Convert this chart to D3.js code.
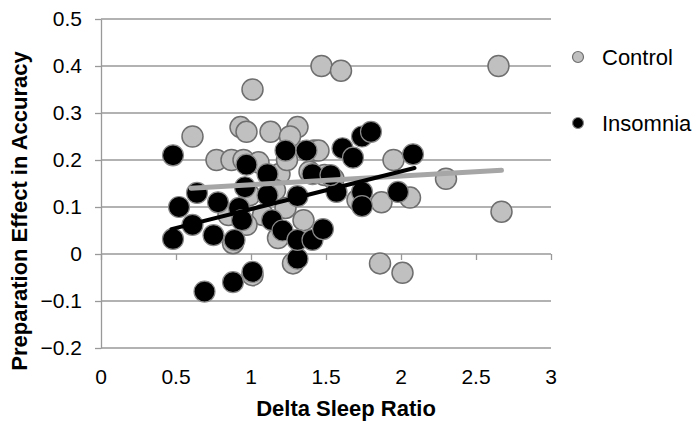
<!DOCTYPE html>
<meta charset="utf-8">
<script src="https://d3js.org/d3.v7.min.js"></script>
<style>
    body { margin: 0; background: #fff; }
    text { font-family: "Liberation Sans", Arial, sans-serif; }
</style>
<div id="vis"></div>
<script>
    // data: [delta sleep ratio, preparation effect]
    var control = [
        [0.61, 0.25], [0.93, 0.27], [0.97, 0.26], [1.01, 0.35], [1.13, 0.26],
        [1.31, 0.27], [1.26, 0.25], [0.77, 0.20], [0.87, 0.20], [0.95, 0.20],
        [1.05, 0.195], [1.19, 0.17], [1.24, 0.20], [1.39, 0.175], [1.42, 0.22],
        [1.45, 0.22], [1.47, 0.40], [1.60, 0.39], [1.49, 0.168], [1.55, 0.16],
        [1.71, 0.115], [1.87, 0.11], [1.95, 0.20], [2.06, 0.12], [2.30, 0.16],
        [2.65, 0.40], [2.67, 0.09], [1.86, -0.02], [2.01, -0.04], [1.35, 0.072],
        [1.18, 0.034], [0.88, 0.023], [1.28, -0.02], [1.01, -0.045], [1.08, 0.083],
        [1.23, 0.098], [0.85, 0.083], [0.99, 0.125], [1.16, 0.136], [0.97, 0.062]
    ];
    var insomnia = [
        [0.48, 0.21], [0.52, 0.10], [0.61, 0.062], [0.48, 0.032], [0.64, 0.13],
        [0.78, 0.11], [0.92, 0.098], [0.94, 0.072], [0.75, 0.04], [0.89, 0.03],
        [1.11, 0.125], [1.14, 0.072], [1.21, 0.05], [1.31, -0.01], [1.01, -0.038],
        [0.88, -0.06], [0.69, -0.08], [0.97, 0.19], [1.11, 0.17], [1.23, 0.22],
        [1.37, 0.22], [1.41, 0.17], [1.31, 0.123], [0.96, 0.142], [1.61, 0.225],
        [1.68, 0.205], [1.74, 0.25], [1.80, 0.26], [2.08, 0.212], [1.57, 0.132],
        [1.74, 0.132], [1.98, 0.132], [1.74, 0.102], [1.31, 0.03], [1.41, 0.03],
        [1.48, 0.053], [1.53, 0.168]
    ];
    // linear trend lines, end points as shown
    var controlTrend = [[0.60, 0.14], [2.67, 0.178]];
    var insomniaTrend = [[0.47, 0.053], [2.09, 0.183]];

    var xTicks = [0, 0.5, 1, 1.5, 2, 2.5, 3];
    var yTicks = [-0.2, -0.1, 0, 0.1, 0.2, 0.3, 0.4, 0.5];
    var series = ["Control", "Insomnia"];

    var W = 700, H = 431;
    var svg = d3.select("#vis").append("svg")
        .attr("width", W)
        .attr("height", H);

    var x = d3.scaleLinear().domain([0, 3]).range([101, 551]);
    var y = d3.scaleLinear().domain([-0.2, 0.5]).range([348, 19]);

    // gridlines
    svg.append("g")
        .selectAll("line")
        .data(yTicks)
        .enter().append("line")
        .attr("x1", x(0)).attr("x2", x(3))
        .attr("y1", function (d) { return y(d); })
        .attr("y2", function (d) { return y(d); })
        .attr("stroke", "#999")
        .attr("stroke-width", 1.3);

    // y axis
    var yAx = svg.append("g")
        .attr("transform", "translate(" + x(0) + ",0)")
        .call(d3.axisLeft(y).tickValues(yTicks).tickSizeInner(6).tickSizeOuter(0).tickPadding(13)
            .tickFormat(function (d) { return d === 0 ? "0" : d3.format(".1f")(d); }));
    yAx.selectAll("path, line").attr("stroke", "#999").attr("stroke-width", 1.3);
    yAx.selectAll("text").attr("font-size", 21).attr("fill", "#000")
        .style("font-family", "'Liberation Sans', Arial, sans-serif");

    // x axis crosses at y = 0
    var xAx = svg.append("g")
        .attr("transform", "translate(0," + y(0) + ")")
        .call(d3.axisBottom(x).tickValues(xTicks).tickSizeInner(6).tickSizeOuter(0)
            .tickFormat(d3.format("")));
    xAx.select(".domain").remove();
    xAx.selectAll("line").attr("stroke", "#999").attr("stroke-width", 1.3);
    xAx.selectAll("text").remove();

    // x tick labels at the bottom
    svg.append("g")
        .selectAll("text")
        .data(xTicks)
        .enter().append("text")
        .attr("x", function (d) { return x(d); })
        .attr("y", 384)
        .attr("text-anchor", "middle")
        .attr("font-size", 21)
        .text(function (d) { return d; });

    // markers
    svg.append("g")
        .selectAll("circle")
        .data(control)
        .enter().append("circle")
        .attr("cx", function (d) { return x(d[0]); })
        .attr("cy", function (d) { return y(d[1]); })
        .attr("r", 10.5)
        .attr("fill", "#c0c0c0")
        .attr("stroke", "#6e6e6e")
        .attr("stroke-width", 1.5);

    svg.append("g")
        .selectAll("circle")
        .data(insomnia)
        .enter().append("circle")
        .attr("cx", function (d) { return x(d[0]); })
        .attr("cy", function (d) { return y(d[1]); })
        .attr("r", 10.5)
        .attr("fill", "#000")
        .attr("stroke", "#8a8a8a")
        .attr("stroke-width", 1.2);

    // trend lines
    var line = d3.line()
        .x(function (d) { return x(d[0]); })
        .y(function (d) { return y(d[1]); });
    svg.append("path")
        .datum(controlTrend)
        .attr("d", line)
        .attr("stroke", "#a6a6a6")
        .attr("stroke-width", 5)
        .attr("stroke-linecap", "round")
        .attr("fill", "none");
    svg.append("path")
        .datum(insomniaTrend)
        .attr("d", line)
        .attr("stroke", "#000")
        .attr("stroke-width", 4)
        .attr("stroke-linecap", "round")
        .attr("fill", "none");

    // legend
    var lg = svg.append("g")
        .selectAll("g")
        .data(series)
        .enter().append("g")
        .attr("transform", function (d, i) { return "translate(578," + (57 + i * 66) + ")"; });
    lg.append("circle")
        .attr("r", 5.5)
        .attr("fill", function (d, i) { return i === 0 ? "#c0c0c0" : "#000"; })
        .attr("stroke", function (d, i) { return i === 0 ? "#6e6e6e" : "#8a8a8a"; })
        .attr("stroke-width", 1.2);
    lg.append("text")
        .attr("x", 24)
        .attr("y", 8)
        .attr("font-size", 22)
        .text(function (d) { return d; });

    // axis titles
    svg.append("text")
        .attr("x", 346)
        .attr("y", 416)
        .attr("text-anchor", "middle")
        .attr("font-size", 22)
        .attr("font-weight", "bold")
        .text("Delta Sleep Ratio");
    svg.append("text")
        .attr("transform", "translate(27,211) rotate(-90)")
        .attr("text-anchor", "middle")
        .attr("font-size", 22)
        .attr("font-weight", "bold")
        .text("Preparation Effect in Accuracy");
</script>
